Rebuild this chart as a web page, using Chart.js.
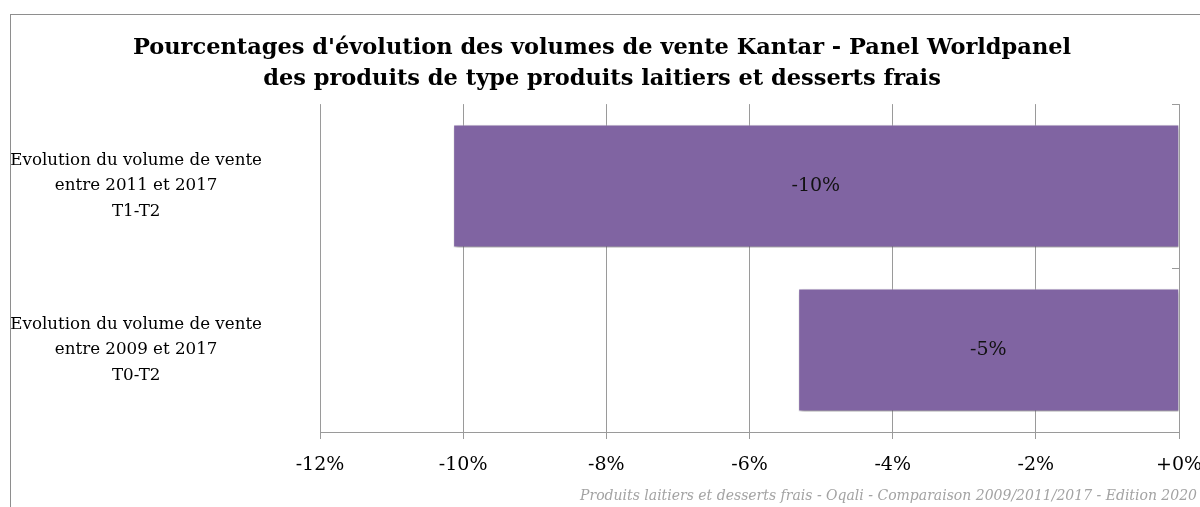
<!DOCTYPE html>
<html>
<head>
<meta charset="utf-8">
<script src="https://cdn.jsdelivr.net/npm/chart.js@4"></script>
<style>
  html,body{margin:0;padding:0;background:#fff;}
  #wrap{width:1200px;height:507px;position:relative;}
</style>
</head>
<body>
<div id="wrap"><canvas id="chart"></canvas></div>
<script>
const categories = [
    ["Evolution du volume de vente","entre 2011 et 2017","T1-T2"],
    ["Evolution du volume de vente","entre 2009 et 2017","T0-T2"]
];
const volumeChange = [-10.14, -5.32];
const axisMin = -12;
const axisMax = 0;
const axisStep = 2;

const titleLines = [
    "Pourcentages d'évolution des volumes de vente Kantar - Panel Worldpanel",
    "des produits de type produits laitiers et desserts frais"
];
const sourceNote = "Produits laitiers et desserts frais - Oqali - Comparaison 2009/2011/2017 - Edition 2020";

const SERIF = "'DejaVu Serif', 'Liberation Serif', serif";
const GRID = "#9a9a9a";

// frame, bar shadow, value labels, footer note
const decorations = {
    id:"decorations",
    afterLayout(chart){
        // title is centred a bit right of the canvas middle
        if(chart.titleBlock) chart.titleBlock.left += 15;
    },
    beforeDraw(chart){
        const ctx = chart.ctx;
        ctx.save();
        ctx.strokeStyle = "#8e8e8e";
        ctx.lineWidth = 1;
        ctx.strokeRect(10.5, 14.5, 1400, 600);
        ctx.restore();
    },
    afterDraw(chart){
        const ctx = chart.ctx;
        const area = chart.chartArea;
        // little ticks on the vertical axis at zero
        ctx.save();
        ctx.strokeStyle = GRID;
        ctx.lineWidth = 1;
        const n = chart.data.labels.length;
        for(let i=0;i<=n;i++){
            const y = Math.round(area.top + (area.bottom-area.top)*i/n) + 0.5;
            ctx.beginPath();
            ctx.moveTo(area.right-7, y);
            ctx.lineTo(area.right, y);
            ctx.stroke();
        }
        ctx.restore();

        ctx.save();
        ctx.font = "italic 14px " + SERIF;
        ctx.fillStyle = "#a3a3a3";
        ctx.textAlign = "right";
        ctx.textBaseline = "middle";
        ctx.fillText(sourceNote, chart.width - 3, 496);
        ctx.restore();
    },
    beforeDatasetsDraw(chart){
        const ctx = chart.ctx;
        ctx.save();
        ctx.shadowColor = "rgba(0,0,0,0.4)";
        ctx.shadowOffsetX = 2;
        ctx.shadowOffsetY = 2;
        ctx.shadowBlur = 4;
    },
    afterDatasetsDraw(chart){
        const ctx = chart.ctx;
        ctx.restore();
        const meta = chart.getDatasetMeta(0);
        ctx.save();
        ctx.font = "19px " + SERIF;
        ctx.fillStyle = "#111";
        ctx.textAlign = "center";
        ctx.textBaseline = "middle";
        meta.data.forEach((bar,i)=>{
            const v = chart.data.datasets[0].data[i];
            ctx.fillText(Math.round(v) + "%", (bar.x + bar.base)/2, bar.y);
        });
        ctx.restore();
    }
};

new Chart(document.getElementById("chart"),{
    type:"bar",
    data:{
        labels:categories,
        datasets:[{
            data:volumeChange,
            backgroundColor:"#8064a2",
            borderColor:"rgba(255,255,255,0.55)",
            borderWidth:1,
            barPercentage:0.75,
            categoryPercentage:1
        }]
    },
    options:{
        indexAxis:"y",
        responsive:true,
        maintainAspectRatio:false,
        animation:false,
        layout:{padding:{top:33,left:10,right:21,bottom:0}},
        plugins:{
            legend:{display:false},
            tooltip:{enabled:false},
            title:{
                display:true,
                text:titleLines,
                color:"#000",
                font:{family:SERIF,size:22.5,weight:"bold",lineHeight:1.38},
                padding:{top:0,bottom:9}
            }
        },
        scales:{
            x:{
                min:axisMin,
                max:axisMax,
                ticks:{
                    stepSize:axisStep,
                    color:"#000",
                    font:{family:SERIF,size:19},
                    padding:15,
                    callback:v => v===0 ? "+0%" : v + "%"
                },
                grid:{color:GRID,tickLength:7,drawTicks:true},
                border:{color:GRID},
                afterFit(scale){
                    scale.height = 75;
                    scale.paddingLeft = 0;
                    scale.paddingRight = 0;
                }
            },
            y:{
                ticks:{
                    color:"#000",
                    font:{family:SERIF,size:16.7,lineHeight:1.53},
                    crossAlign:"center",
                    padding:58
                },
                grid:{display:false,drawTicks:false},
                border:{display:false},
                afterFit(scale){
                    scale.width = 310;
                    scale.paddingTop = 0;
                    scale.paddingBottom = 0;
                }
            }
        }
    },
    plugins:[decorations]
});
</script>
</body>
</html>
